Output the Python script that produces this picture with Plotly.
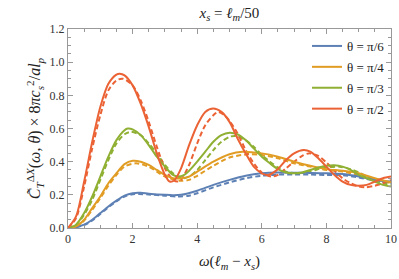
import plotly.graph_objects as go

# ---- data ----
red_x = [0, 0.25, 0.5, 0.75, 1.0, 1.25, 1.5, 1.6, 1.75, 2.0, 2.25, 2.5, 2.75, 3.0, 3.15, 3.3, 3.5, 3.75, 4.0, 4.25, 4.5, 4.75, 5.0, 5.25, 5.5, 5.75, 6.0, 6.2, 6.5, 6.75, 7.0, 7.3, 7.5, 7.75, 8.0, 8.25, 8.5, 8.75, 9.0, 9.25, 9.5, 9.75, 10]
red_y = [0, 0.07, 0.28, 0.52, 0.73, 0.87, 0.925, 0.93, 0.92, 0.86, 0.75, 0.61, 0.45, 0.32, 0.28, 0.29, 0.36, 0.50, 0.62, 0.70, 0.72, 0.70, 0.64, 0.54, 0.45, 0.37, 0.33, 0.32, 0.355, 0.41, 0.45, 0.47, 0.46, 0.42, 0.37, 0.32, 0.28, 0.26, 0.255, 0.26, 0.28, 0.30, 0.31]
red_d_x = [0, 0.25, 0.5, 0.75, 1.0, 1.25, 1.5, 1.7, 2.0, 2.25, 2.5, 2.75, 3.0, 3.25, 3.4, 3.5, 3.75, 4.0, 4.25, 4.5, 4.65, 4.9, 5.25, 5.5, 5.75, 6.0, 6.3, 6.5, 6.75, 7.0, 7.25, 7.45, 7.75, 8.0, 8.25, 8.5, 8.75, 9.0, 9.2, 9.5, 9.75, 10]
red_d_y = [0, 0.06, 0.25, 0.48, 0.68, 0.83, 0.89, 0.90, 0.86, 0.77, 0.64, 0.49, 0.36, 0.29, 0.28, 0.29, 0.38, 0.51, 0.62, 0.68, 0.70, 0.67, 0.57, 0.47, 0.39, 0.335, 0.31, 0.32, 0.36, 0.40, 0.435, 0.45, 0.435, 0.395, 0.345, 0.30, 0.27, 0.25, 0.245, 0.255, 0.27, 0.29]

green_x = [0, 0.25, 0.5, 0.75, 1.0, 1.25, 1.5, 1.75, 1.85, 2.0, 2.25, 2.5, 2.75, 3.0, 3.25, 3.4, 3.6, 3.75, 4.0, 4.25, 4.5, 4.75, 5.0, 5.25, 5.5, 5.75, 6.0, 6.25, 6.5, 6.75, 7.0, 7.25, 7.5, 7.75, 8.0, 8.25, 8.5, 8.75, 9.0, 9.25, 9.5, 9.75, 10]
green_y = [0, 0.02, 0.09, 0.19, 0.31, 0.43, 0.53, 0.59, 0.60, 0.595, 0.56, 0.50, 0.43, 0.37, 0.32, 0.31, 0.32, 0.345, 0.40, 0.46, 0.52, 0.56, 0.575, 0.565, 0.53, 0.48, 0.43, 0.39, 0.355, 0.335, 0.33, 0.335, 0.35, 0.365, 0.375, 0.378, 0.37, 0.35, 0.32, 0.30, 0.28, 0.26, 0.25]
green_d_x = [0, 0.25, 0.5, 0.75, 1.0, 1.25, 1.5, 1.75, 1.95, 2.25, 2.5, 2.75, 3.0, 3.25, 3.55, 3.75, 4.0, 4.25, 4.5, 4.75, 5.0, 5.2, 5.5, 5.75, 6.0, 6.25, 6.5, 6.75, 7.1, 7.5, 7.75, 8.0, 8.4, 8.75, 9.0, 9.25, 9.5, 9.75, 10]
green_d_y = [0, 0.02, 0.08, 0.17, 0.29, 0.41, 0.51, 0.565, 0.58, 0.56, 0.51, 0.45, 0.38, 0.33, 0.30, 0.31, 0.35, 0.41, 0.47, 0.52, 0.55, 0.555, 0.53, 0.49, 0.44, 0.40, 0.365, 0.34, 0.33, 0.34, 0.355, 0.365, 0.37, 0.355, 0.335, 0.31, 0.29, 0.27, 0.26]

orange_x = [0, 0.25, 0.5, 0.75, 1.0, 1.25, 1.5, 1.75, 2.0, 2.25, 2.5, 2.75, 3.0, 3.25, 3.5, 3.75, 4.0, 4.5, 5.0, 5.4, 6.0, 6.5, 7.0, 7.5, 8.0, 8.5, 9.0, 9.5, 10]
orange_y = [0, 0.01, 0.05, 0.12, 0.19, 0.27, 0.33, 0.385, 0.405, 0.40, 0.38, 0.35, 0.32, 0.30, 0.30, 0.31, 0.34, 0.40, 0.445, 0.46, 0.45, 0.43, 0.40, 0.375, 0.355, 0.345, 0.33, 0.30, 0.275]
orange_d_x = [0, 0.25, 0.5, 0.75, 1.0, 1.25, 1.5, 1.75, 2.1, 2.5, 2.75, 3.0, 3.45, 3.75, 4.0, 4.5, 5.0, 5.6, 6.0, 6.5, 7.0, 7.5, 8.0, 8.5, 9.0, 9.5, 10]
orange_d_y = [0, 0.01, 0.045, 0.11, 0.18, 0.255, 0.32, 0.37, 0.39, 0.37, 0.34, 0.31, 0.285, 0.29, 0.315, 0.375, 0.425, 0.445, 0.44, 0.42, 0.39, 0.37, 0.35, 0.34, 0.32, 0.295, 0.27]

blue_x = [0, 0.25, 0.5, 0.75, 1.0, 1.25, 1.5, 1.75, 2.0, 2.25, 2.5, 3.0, 3.25, 3.5, 4.0, 4.5, 5.0, 5.5, 6.0, 6.5, 7.0, 7.5, 8.0, 8.5, 9.0, 9.5, 10]
blue_y = [0, 0.005, 0.02, 0.05, 0.09, 0.13, 0.165, 0.195, 0.21, 0.212, 0.207, 0.20, 0.198, 0.20, 0.225, 0.26, 0.29, 0.315, 0.33, 0.335, 0.333, 0.332, 0.33, 0.325, 0.31, 0.29, 0.28]
blue_d_x = [0, 0.25, 0.5, 0.75, 1.0, 1.25, 1.5, 1.75, 2.0, 2.2, 2.5, 3.0, 3.4, 3.75, 4.0, 4.5, 5.0, 5.5, 6.0, 6.5, 7.0, 7.5, 8.0, 8.5, 9.0, 9.5, 10]
blue_d_y = [0, 0.005, 0.018, 0.045, 0.085, 0.125, 0.16, 0.19, 0.203, 0.205, 0.202, 0.195, 0.19, 0.195, 0.21, 0.245, 0.275, 0.30, 0.315, 0.322, 0.322, 0.322, 0.32, 0.318, 0.305, 0.285, 0.27]

labels = ["θ = π/6", "θ = π/4", "θ = π/3", "θ = π/2"]
colors = ["#5E81B5", "#E19C24", "#8FB032", "#EB6235"]

series = [
    (blue_x, blue_y, blue_d_x, blue_d_y),
    (orange_x, orange_y, orange_d_x, orange_d_y),
    (green_x, green_y, green_d_x, green_d_y),
    (red_x, red_y, red_d_x, red_d_y),
]

SERIF = "Liberation Serif, DejaVu Serif, serif"

fig = go.Figure()
for (sx, sy, dx, dy), lab, col in zip(series, labels, colors):
    fig.add_trace(go.Scatter(x=dx, y=dy, mode="lines", line=dict(color=col, width=2, dash="5px,3px", shape="spline", smoothing=0.8),
                             showlegend=False, hoverinfo="skip"))
for (sx, sy, dx, dy), lab, col in zip(series, labels, colors):
    fig.add_trace(go.Scatter(x=sx, y=sy, mode="lines", name=lab, legendgroup=lab,
                             line=dict(color=col, width=2, shape="spline", smoothing=0.8)))

axis_common = dict(showline=True, linecolor="#999999", linewidth=1, mirror="ticks", ticks="inside",
                   ticklen=5, tickcolor="#999999", showgrid=False, zeroline=False,
                   tickfont=dict(family=SERIF, size=12, color="#333333"))

fig.update_layout(
    width=399, height=279,
    margin=dict(l=68, r=8, t=29, b=51, autoexpand=False),
    paper_bgcolor="white", plot_bgcolor="white",
    title=dict(text="<i>x</i><sub><i>s</i></sub> = <i>ℓ</i><sub><i>m</i></sub>/50", x=0.575, xanchor="center",
               y=0.955, yanchor="middle", font=dict(family=SERIF, size=15, color="#222222")),
    xaxis=dict(range=[0, 10], tickvals=[0, 2, 4, 6, 8, 10],
               minor=dict(dtick=0.5, ticks="inside", ticklen=3, tickcolor="#999999"),
               title=dict(text="<i>ω</i>(<i>ℓ</i><sub><i>m</i></sub> − <i>x</i><sub><i>s</i></sub>)",
                          font=dict(family=SERIF, size=15, color="#222222"), standoff=10),
               **axis_common),
    yaxis=dict(range=[0, 1.2], tickvals=[0, 0.2, 0.4, 0.6, 0.8, 1.0, 1.2], tickformat=".1f",
               minor=dict(dtick=0.05, ticks="inside", ticklen=3, tickcolor="#999999"),
               title=dict(text="<i>C̃</i><sub><i>T</i></sub><sup>Δ<i>X</i></sup>(<i>ω</i>, <i>θ</i>) × 8<i>πc</i><sub><i>s</i></sub><sup>2</sup>/<i>al</i><sub><i>p</i></sub>",
                          font=dict(family=SERIF, size=16, color="#222222"), standoff=4),
               **axis_common),
    legend=dict(x=0.74, y=0.99, xanchor="left", yanchor="top", bgcolor="rgba(0,0,0,0)",
                font=dict(family=SERIF, size=13, color="#222222"), itemwidth=30, tracegroupgap=1),
)

fig.write_html("out.html", config={"displayModeBar": False},
               post_script="document.body.style.margin='0';")
